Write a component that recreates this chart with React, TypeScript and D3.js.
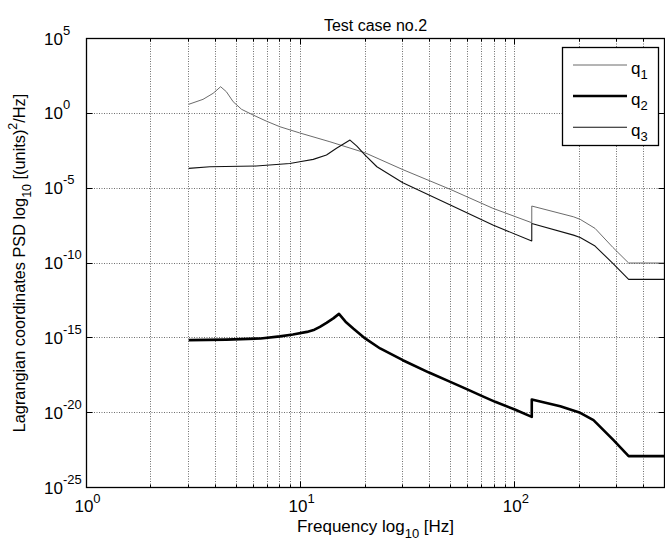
import React from "react";
import * as d3 from "d3";

// ---- data ----
const q1Freq = [3, 3.5, 3.9, 4.23, 4.5, 4.84, 5.3, 6.0, 6.9, 8.0, 9.85, 13.7, 20, 30, 50, 79, 120, 120, 188, 202, 237, 287, 340, 500];
const q1Psd = [4.0, 8.6, 21.7, 60, 27.8, 5.96, 1.85, 0.77, 0.305, 0.127, 0.05, 0.0126, 2.3e-3, 1.73e-4, 8.3e-6, 4.5e-7, 4.9e-8, 6.4e-7, 1.22e-7, 8.2e-8, 2.05e-8, 1.1e-9, 1.0e-10, 1.0e-10];

const q2Freq = [3, 4.5, 6.5, 8.0, 9.2, 10.7, 11.6, 12.3, 13.2, 14.2, 15.1, 16.2, 17.6, 20, 23.5, 30, 40, 50, 60, 70, 81, 100, 120, 120, 163, 202, 233, 289, 340, 500];
const q2Psd = [7.0e-16, 7.6e-16, 9.1e-16, 1.25e-15, 1.69e-15, 2.5e-15, 3.5e-15, 5.4e-15, 1.0e-14, 2.0e-14, 4.0e-14, 1.2e-14, 4.2e-15, 9.1e-16, 1.95e-16, 3.2e-17, 4.6e-18, 1.15e-18, 3.6e-19, 1.33e-19, 5.3e-20, 1.64e-20, 5.2e-21, 7.6e-20, 2.7e-20, 9.8e-21, 3.2e-21, 1.45e-22, 1.24e-23, 1.24e-23];

const q3Freq = [3, 3.77, 6.2, 8.9, 9.9, 11.45, 13.2, 14.7, 17, 18.3, 20, 22.7, 30, 50, 79, 120, 120, 188, 202, 237, 287, 340, 500];
const q3Psd = [2.1e-4, 2.7e-4, 3.0e-4, 4.5e-4, 5.8e-4, 8.4e-4, 1.63e-3, 4.6e-3, 0.0164, 6.5e-3, 1.63e-3, 2.7e-4, 2.3e-5, 7.4e-7, 3.4e-8, 3.0e-9, 4.4e-8, 7.3e-9, 5.1e-9, 1.35e-9, 9.4e-11, 8.0e-12, 8.0e-12];

const xMajorTicks = [1, 10, 100];
const xMinorTicks = [2, 3, 4, 5, 6, 7, 8, 9, 20, 30, 40, 50, 60, 70, 80, 90, 200, 300, 400];
const xTickExps = [0, 1, 2];
const yTickExps = [-25, -20, -15, -10, -5, 0, 5];
const legendLabels = ["1", "2", "3"];

const title = "Test case no.2";

const W = 665;
const H = 546;
const L = 86.5;
const R = 664.5;
const T = 38.5;
const B = 487.5;
const FONT = "'Liberation Sans', Arial, Helvetica, sans-serif";

type Pt = [number, number];
const pairs = (f: number[], v: number[]): Pt[] => f.map((fi, i) => [fi, v[i]]);

export default function App() {
  const x = d3.scaleLog().domain([1, 500]).range([L, R]);
  const y = d3.scaleLog().domain([1e-25, 1e5]).range([B, T]);
  const line = d3
    .line<Pt>()
    .x((d) => x(d[0]))
    .y((d) => y(d[1]));

  const crisp = (v: number) => Math.round(v - 0.5) + 0.5;

  const series = [
    { d: pairs(q1Freq, q1Psd), stroke: "#5a5a5a", w: 0.9 },
    { d: pairs(q2Freq, q2Psd), stroke: "#000", w: 2.6 },
    { d: pairs(q3Freq, q3Psd), stroke: "#111", w: 1.1 },
  ];

  const gridX = [...xMinorTicks, 10, 100];
  const gridY = yTickExps.filter((e) => e > -25 && e < 5);

  const legend = { x0: 562.5, y0: 47.5, x1: 658.5, y1: 145.5 };
  const legendRows = [65, 96, 127.3];

  return (
    <svg
      width={W}
      height={H}
      style={{ position: "absolute", left: 0, top: 0, background: "#fff" }}
      fontFamily={FONT}
    >
      <rect x={0} y={0} width={W} height={H} fill="#fff" />
      {/* grid */}
      <g stroke="#6e6e6e" strokeWidth={1} strokeDasharray="1,1.5" fill="none">
        {gridX.map((t, i) => (
          <line key={"gx" + i} x1={crisp(x(t))} x2={crisp(x(t))} y1={T} y2={B} />
        ))}
        {gridY.map((e, i) => (
          <line key={"gy" + i} x1={L} x2={R} y1={crisp(y(Math.pow(10, e)))} y2={crisp(y(Math.pow(10, e)))} />
        ))}
      </g>
      {/* ticks */}
      <g stroke="#000" strokeWidth={1}>
        {xMinorTicks.map((t, i) => (
          <g key={"tm" + i}>
            <line x1={crisp(x(t))} x2={crisp(x(t))} y1={B} y2={B - 3} />
            <line x1={crisp(x(t))} x2={crisp(x(t))} y1={T} y2={T + 3} />
          </g>
        ))}
        {xMajorTicks.map((t, i) => (
          <g key={"tM" + i}>
            <line x1={crisp(x(t))} x2={crisp(x(t))} y1={B} y2={B - 6} />
            <line x1={crisp(x(t))} x2={crisp(x(t))} y1={T} y2={T + 6} />
          </g>
        ))}
        {yTickExps.map((e, i) => {
          const yy = crisp(y(Math.pow(10, e)));
          return (
            <g key={"ty" + i}>
              <line x1={L} x2={L + 6} y1={yy} y2={yy} />
              <line x1={R} x2={R - 6} y1={yy} y2={yy} />
            </g>
          );
        })}
      </g>
      {/* data */}
      <g fill="none" strokeLinejoin="round">
        {series.map((s, i) => (
          <path key={"s" + i} d={line(s.d) || ""} stroke={s.stroke} strokeWidth={s.w} />
        ))}
      </g>
      {/* axes box */}
      <rect x={L} y={T} width={R - L} height={B - T} fill="none" stroke="#000" strokeWidth={1.3} />
      {/* y tick labels */}
      <g fontSize={17} fill="#000">
        {yTickExps.map((e, i) => (
          <text key={"yl" + i} x={44} y={y(Math.pow(10, e)) + 6}>
            <tspan>10</tspan>
            <tspan dy={-10} fontSize={13}>
              {String(e)}
            </tspan>
          </text>
        ))}
      </g>
      {/* x tick labels */}
      <g fontSize={17} fill="#000">
        {xTickExps.map((e, i) => (
          <text key={"xl" + i} x={x(Math.pow(10, e)) + 1} y={512} textAnchor="middle">
            <tspan>10</tspan>
            <tspan dy={-9} fontSize={13}>
              {String(e)}
            </tspan>
          </text>
        ))}
      </g>
      {/* title */}
      <text x={(L + R) / 2} y={31} textAnchor="middle" fontSize={16}>
        {title}
      </text>
      {/* x label */}
      <text x={(L + R) / 2} y={532} textAnchor="middle" fontSize={17}>
        <tspan>Frequency log</tspan>
        <tspan dy={6} fontSize={13}>10</tspan>
        <tspan dy={-6}> [Hz]</tspan>
      </text>
      {/* y label */}
      <text transform={`translate(25,${(T + B) / 2}) rotate(-90)`} textAnchor="middle" fontSize={16.3}>
        <tspan>Lagrangian coordinates PSD log</tspan>
        <tspan dy={6} fontSize={12.5}>10</tspan>
        <tspan dy={-6}> [(units)</tspan>
        <tspan dy={-8} fontSize={12.5}>2</tspan>
        <tspan dy={8}>/Hz]</tspan>
      </text>
      {/* legend */}
      <rect
        x={legend.x0}
        y={legend.y0}
        width={legend.x1 - legend.x0}
        height={legend.y1 - legend.y0}
        fill="#fff"
        stroke="#000"
        strokeWidth={1.3}
      />
      {series.map((s, i) => (
        <g key={"lg" + i}>
          <line x1={573} x2={627} y1={legendRows[i]} y2={legendRows[i]} stroke={s.stroke} strokeWidth={s.w} />
          <text x={631} y={legendRows[i] + 8.5} fontSize={17}>
            <tspan>q</tspan>
            <tspan dy={5} fontSize={13}>
              {legendLabels[i]}
            </tspan>
          </text>
        </g>
      ))}
    </svg>
  );
}
